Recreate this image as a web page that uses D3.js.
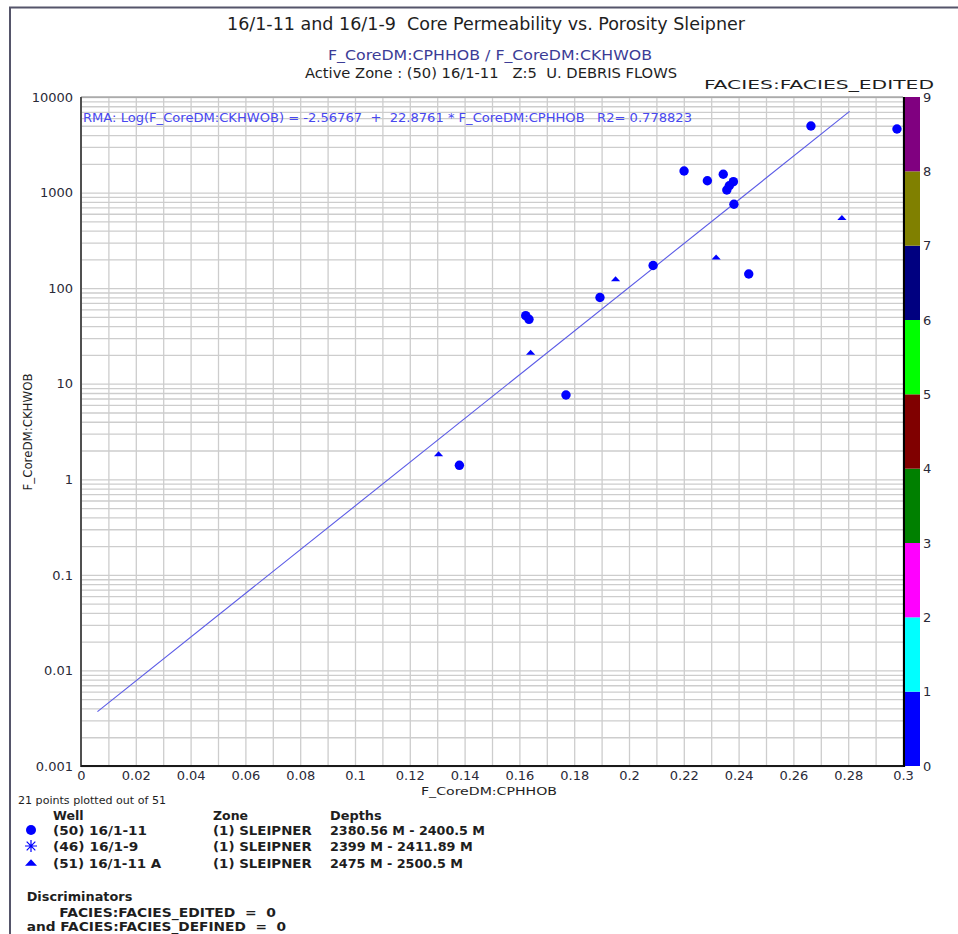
<!DOCTYPE html>
<html lang="en">
<head>
<meta charset="utf-8">
<script src="https://d3js.org/d3.v7.min.js"></script>
<title>Core Permeability vs. Porosity Sleipner</title>
<style>
    body { margin: 0; background: #ffffff; }
    text { font-family: "DejaVu Sans", Verdana, sans-serif; }
    .cond { font-family: "DejaVu Sans Condensed", "DejaVu Sans", Tahoma, sans-serif; }
    .bold { font-weight: bold; }
</style>
</head>
<body>
<svg id="main" width="958" height="934"></svg>
<script>

// (50) 16/1-11 : circles
const well50Phi  = [0.2664, 0.2978, 0.2201, 0.2286, 0.2344, 0.2381, 0.2366, 0.2357, 0.2383,
                    0.2437, 0.2088, 0.1894, 0.1623, 0.1635, 0.1770, 0.1381];
const well50Perm = [4974, 4624, 1680, 1331, 1554, 1300, 1180, 1064, 754,
                    140.6, 172.6, 79.8, 51.5, 47.2, 7.62, 1.40];

// (51) 16/1-11 A : triangles
const well51Phi  = [0.2777, 0.2318, 0.1951, 0.1641, 0.1305];
const well51Perm = [548, 212, 125.6, 21.3, 1.85];

// RMA regression shown in the plot
const rmaIntercept = -2.56767;
const rmaSlope = 22.8761;
const rmaRange = [0.006, 0.2805];

const xTickValues = [0, 0.02, 0.04, 0.06, 0.08, 0.1, 0.12, 0.14, 0.16, 0.18, 0.2, 0.22, 0.24, 0.26, 0.28, 0.3];
const xTickLabels = ["0", "0.02", "0.04", "0.06", "0.08", "0.1", "0.12", "0.14", "0.16", "0.18", "0.2", "0.22", "0.24", "0.26", "0.28", "0.3"];
const yTickValues = [0.001, 0.01, 0.1, 1, 10, 100, 1000, 10000];
const yTickLabels = ["0.001", "0.01", "0.1", "1", "10", "100", "1000", "10000"];

const faciesColors = ["#0000ff", "#00ffff", "#ff00ff", "#008000", "#800000", "#00ff00", "#000080", "#808000", "#800080"];
const faciesTicks = [0, 1, 2, 3, 4, 5, 6, 7, 8, 9];

const legendWells  = ["(50) 16/1-11", "(46) 16/1-9", "(51) 16/1-11 A"];
const legendZones  = ["(1) SLEIPNER", "(1) SLEIPNER", "(1) SLEIPNER"];
const legendDepths = ["2380.56 M - 2400.5 M", "2399 M - 2411.89 M", "2475 M - 2500.5 M"];
const legendSymbols = ["circle", "asterisk", "triangle"];

let svg = d3.select('svg#main');
let plotLeft = 81, plotRight = 903, plotTop = 97, plotBottom = 766;

let x = d3.scaleLinear().domain([0, 0.3]).range([plotLeft, plotRight]);
let y = d3.scaleLog().domain([0.001, 10000]).range([plotBottom, plotTop]);

// outer frame
svg.append("path")
    .attr("d", "M10,934 L10,7.5 L958,7.5")
    .attr("fill", "none")
    .attr("stroke", "#55556a")
    .attr("stroke-width", 2);

// grid
svg.append("g")
    .attr("transform", "translate(0," + plotBottom + ")")
    .call(d3.axisBottom(x).tickValues(d3.range(1, 30).map(i => i / 100)).tickSize(-(plotBottom - plotTop)).tickFormat(""))
    .call(g => g.select(".domain").remove())
    .selectAll("line").attr("stroke", "#cdcdcd").attr("stroke-width", 1.3);

svg.append("g")
    .attr("transform", "translate(" + plotLeft + ",0)")
    .call(d3.axisLeft(y).tickValues(y.ticks()).tickSize(-(plotRight - plotLeft)).tickFormat(""))
    .call(g => g.select(".domain").remove())
    .selectAll("line").attr("stroke", "#cdcdcd").attr("stroke-width", 1.3);

// plot borders
svg.append("line").attr("x1", plotLeft).attr("x2", plotRight).attr("y1", plotTop).attr("y2", plotTop)
    .attr("stroke", "#8a8a8a").attr("stroke-width", 1.2);
svg.append("line").attr("x1", plotLeft).attr("x2", plotLeft).attr("y1", plotTop).attr("y2", plotBottom + 1)
    .attr("stroke", "#505050").attr("stroke-width", 2);
svg.append("line").attr("x1", plotLeft).attr("x2", plotRight + 2).attr("y1", plotBottom).attr("y2", plotBottom)
    .attr("stroke", "#1a1a1a").attr("stroke-width", 2);
svg.append("line").attr("x1", plotRight + 1).attr("x2", plotRight + 1).attr("y1", plotTop).attr("y2", plotBottom + 1)
    .attr("stroke", "#000000").attr("stroke-width", 2.2);

// axes labels
let xAxis = svg.append("g")
    .attr("transform", "translate(0," + plotBottom + ")")
    .call(d3.axisBottom(x).tickValues(xTickValues).tickSize(0).tickPadding(5)
        .tickFormat((d, i) => xTickLabels[i]));
xAxis.select(".domain").remove();
xAxis.selectAll("text").attr("font-size", 13).attr("fill", "#2a2a38")
    .attr("font-family", '"DejaVu Sans", Verdana, sans-serif');

let yAxis = svg.append("g")
    .attr("transform", "translate(" + plotLeft + ",0)")
    .call(d3.axisLeft(y).tickValues(yTickValues).tickSize(0).tickPadding(8)
        .tickFormat((d, i) => yTickLabels[i]));
yAxis.select(".domain").remove();
yAxis.selectAll("text").attr("font-size", 13).attr("fill", "#2a2a38")
    .attr("font-family", '"DejaVu Sans", Verdana, sans-serif');

// colour bar
let fy = d3.scaleLinear().domain([0, 9]).range([plotBottom, plotTop]);
svg.selectAll(".facies")
    .data(faciesColors)
    .enter().append("rect")
    .attr("class", "facies")
    .attr("x", plotRight + 2)
    .attr("width", 15)
    .attr("y", (d, i) => fy(i + 1))
    .attr("height", (d, i) => fy(i) - fy(i + 1))
    .attr("fill", d => d);

svg.selectAll(".faciesLabel")
    .data(faciesTicks)
    .enter().append("text")
    .attr("class", "faciesLabel")
    .attr("x", 923)
    .attr("y", d => fy(d))
    .attr("dy", "0.36em")
    .attr("font-size", 13)
    .attr("fill", "#2a2a38")
    .text(d => d);

// regression line
svg.append("line")
    .attr("x1", x(rmaRange[0])).attr("y1", y(Math.pow(10, rmaIntercept + rmaSlope * rmaRange[0])))
    .attr("x2", x(rmaRange[1])).attr("y2", y(Math.pow(10, rmaIntercept + rmaSlope * rmaRange[1])))
    .attr("stroke", "#5a5ae6")
    .attr("stroke-width", 1.1);

// markers
function markerPath(kind, s) {
    if (kind === "circle") {
        return d3.symbol(d3.symbolCircle, Math.PI * s * s)();
    }
    if (kind === "triangle") {
        return "M" + (-s) + "," + (s * 0.55) + "L0," + (-s * 0.55) + "L" + s + "," + (s * 0.55) + "Z";
    }
    // asterisk
    let a = s * 0.72;
    return "M" + (-s) + ",0L" + s + ",0M0," + (-s) + "L0," + s +
        "M" + (-a) + "," + (-a) + "L" + a + "," + a + "M" + (-a) + "," + a + "L" + a + "," + (-a);
}

svg.selectAll(".w50")
    .data(well50Phi)
    .enter().append("path")
    .attr("class", "w50")
    .attr("transform", (d, i) => "translate(" + x(d) + "," + y(well50Perm[i]) + ")")
    .attr("d", markerPath("circle", 4.7))
    .attr("fill", "#0000ff");

svg.selectAll(".w51")
    .data(well51Phi)
    .enter().append("path")
    .attr("class", "w51")
    .attr("transform", (d, i) => "translate(" + x(d) + "," + y(well51Perm[i]) + ")")
    .attr("d", markerPath("triangle", 4.6))
    .attr("fill", "#0000ff");

// texts
function label(str, x0, base, size, width, cls, fill) {
    return svg.append("text")
        .attr("class", cls)
        .attr("x", x0).attr("y", base)
        .attr("font-size", size)
        .attr("fill", fill)
        .attr("textLength", width)
        .attr("lengthAdjust", "spacingAndGlyphs")
        .style("white-space", "pre")
        .text(str);
}

label("16/1-11 and 16/1-9  Core Permeability vs. Porosity Sleipner", 227, 30, 18, 518, "cond", "#1e1e1e");
label("F_CoreDM:CPHHOB / F_CoreDM:CKHWOB", 328, 60, 13.5, 324, "cond", "#3c3c96");
label("Active Zone : (50) 16/1-11   Z:5  U. DEBRIS FLOWS", 305, 77.5, 13.5, 372, "cond", "#1e1e1e");
label("FACIES:FACIES_EDITED", 704, 89, 13, 230, "cond", "#1e1e1e");
label("RMA: Log(F_CoreDM:CKHWOB) = -2.56767  +  22.8761 * F_CoreDM:CPHHOB   R2= 0.778823", 83, 122, 11.5, 609, "", "#4848f0");
label("F_CoreDM:CPHHOB", 421, 795, 11, 136, "cond", "#1e1e1e");

svg.append("text")
    .attr("class", "cond")
    .attr("transform", "translate(32,432) rotate(-90)")
    .attr("text-anchor", "middle")
    .attr("font-size", 11.5)
    .attr("fill", "#1e1e1e")
    .attr("textLength", 117)
    .attr("lengthAdjust", "spacingAndGlyphs")
    .text("F_CoreDM:CKHWOB");

// legend
label("21 points plotted out of 51", 18, 804, 10.5, 148, "cond", "#1e1e1e");
label("Well", 53, 820, 12.5, 30.6, "bold", "#1e1e1e");
label("Zone", 213, 820, 12.5, 35, "bold", "#1e1e1e");
label("Depths", 330, 820, 12.5, 51.7, "bold", "#1e1e1e");

const rowBase = [835, 851, 867.5];
const wellW = [94, 85.3, 108.3];
const depthW = [155, 142.7, 133];
legendWells.forEach((w, i) => {
    let sym = legendSymbols[i];
    svg.append("path")
        .attr("transform", "translate(31," + (rowBase[i] - 5) + ")")
        .attr("d", markerPath(sym, sym === "circle" ? 5 : 6))
        .attr("fill", sym === "asterisk" ? "none" : "#0000ff")
        .attr("stroke", sym === "asterisk" ? "#0000ff" : "none")
        .attr("stroke-width", 1.2);
    label(w, 53, rowBase[i], 12.5, wellW[i], "bold", "#1e1e1e");
    label(legendZones[i], 213, rowBase[i], 12.5, 98.7, "bold", "#1e1e1e");
    label(legendDepths[i], 330, rowBase[i], 12.5, depthW[i], "bold", "#1e1e1e");
});

label("Discriminators", 26.7, 901, 12.5, 105.6, "bold", "#1e1e1e");
label("FACIES:FACIES_EDITED  =  0", 59.3, 917, 12.5, 216.7, "bold", "#1e1e1e");
label("and FACIES:FACIES_DEFINED  =  0", 26.7, 931, 12.5, 259.3, "bold", "#1e1e1e");

</script>
</body>
</html>
